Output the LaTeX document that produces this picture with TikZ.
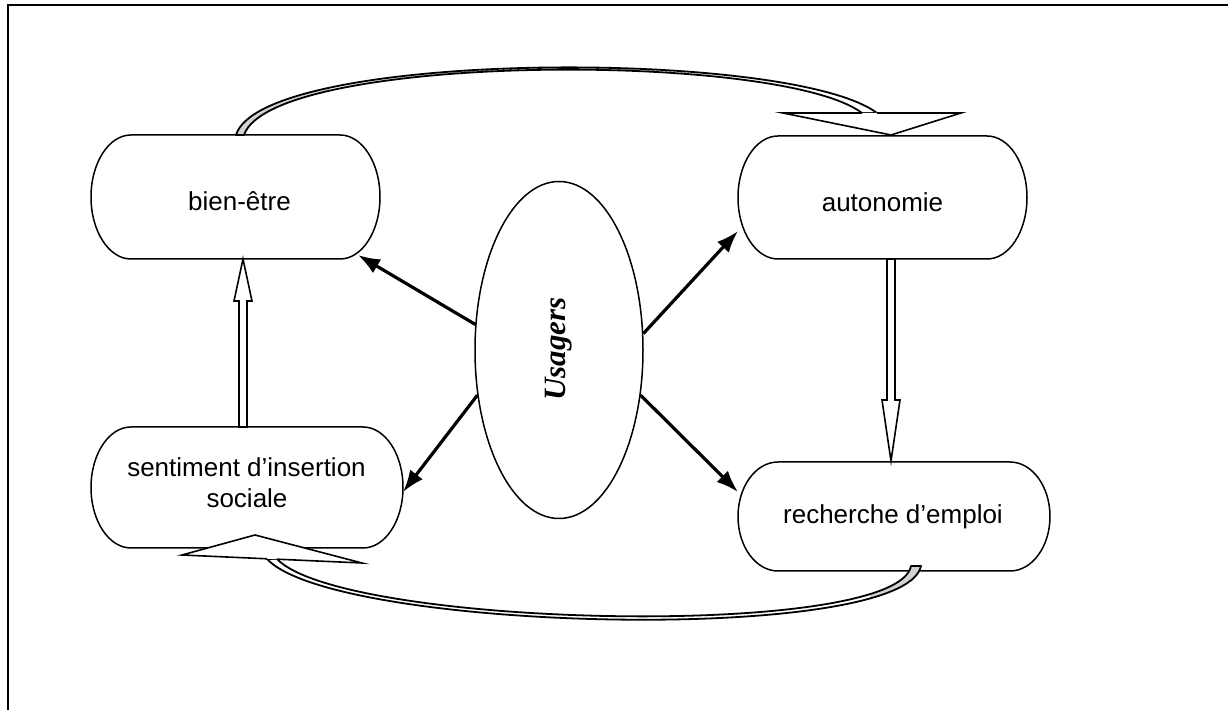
\documentclass[tikz,border=0pt]{standalone}
\usepackage{fontspec}
\setmainfont{Liberation Sans}
\newfontfamily\timesfont{Liberation Serif}
\usetikzlibrary{shapes.geometric,arrows.meta,calc}
\begin{document}
\begin{tikzpicture}[x=0.5pt,y=-0.5pt,
  frame/.style={line width=1.2pt},
  boxline/.style={line width=0.75pt},
  boxnode/.style={shape=rectangle,draw=none,inner sep=0pt,outer sep=0pt},
  lbl/.style={font=\fontsize{13}{15.5}\selectfont, anchor=base, inner sep=0pt},
  blk/.style={line width=1.6pt, -{Latex[length=11pt,width=8pt]}},
  hollow/.style={line width=0.8pt, line join=miter},
  band/.style={line width=0.9pt, line join=round},
]
\useasboundingbox (0,0) rectangle (1228,710);
\draw[frame] (8,720) -- (8,5) -- (1240,5);

% boxes
\node[boxnode, minimum width=144.5pt, minimum height=62pt] (bien) at (235.5,197) {};
\node[boxnode, minimum width=144.5pt, minimum height=61.5pt] (auto) at (882.5,197.5) {};
\node[boxnode, minimum width=156pt, minimum height=60.5pt] (sent) at (247,487.5) {};
\node[boxnode, minimum width=156pt, minimum height=54.5pt] (rech) at (894,516.5) {};
\foreach \n/\r in {bien/31pt, auto/30.75pt, sent/30.25pt, rech/27.25pt}{
  \draw[boxline] ([xshift=20pt]\n.north west) -- ([xshift=-20pt]\n.north east)
    arc[start angle=90, end angle=-90, x radius=20pt, y radius=\r]
    -- ([xshift=20pt]\n.south west)
    arc[start angle=270, end angle=90, x radius=20pt, y radius=\r] -- cycle;
}

% labels
\node[lbl] (tbien) at (239.5,211) {bien-être};
\node[lbl] (tauto) at (882.5,212) {autonomie};
\node[lbl] (tsent1) at (246.5,477) {sentiment d’insertion};
\node[lbl] (tsent2) at (247,508) {sociale};
\node[lbl] (trech) at (893,524) {recherche d’emploi};

% central ellipse
\node[ellipse, draw, line width=0.75pt, minimum width=84pt, minimum height=168.5pt, inner sep=0pt] (us) at (559,350) {};
\node[rotate=90, inner sep=0pt, font=\timesfont\bfseries\itshape\fontsize{15.5}{18}\selectfont] (ust) at (559,349) {Usagers};

% black arrows
\coordinate (eb) at (358,255);
\coordinate (ea) at (738,231);
\coordinate (es) at (403,492);
\coordinate (er) at (738,492);
\draw[blk] (us.163) -- (eb);
\draw[blk] (us.11) -- (ea);
\draw[blk] (us.209) -- (es);
\draw[blk] (us.331) -- (er);

% hollow vertical arrows
\draw[hollow, fill=white] (239,427) -- (239,301) -- (234,301) -- (243,259) -- (252,301) -- (247,301) -- (247,427) -- cycle;
\draw[hollow, fill=white] (887,259) -- (887,400) -- (882,400) -- (891,461) -- (900,400) -- (895,400) -- (895,259) -- cycle;

% upper curved arrow
\def\upband{(236,135) .. controls (262,50) and (790,48) .. (877,113) -- (862,113) .. controls (780,51) and (272,53) .. (244,135) -- cycle}
\fill[white] \upband;
\begin{scope}
  \clip (200,60) rectangle (330,140);
  \fill[gray!35] \upband;
\end{scope}
\draw[band] \upband;
\fill[white] (783,113) -- (961,113) -- (891,135) -- cycle;
\draw[hollow] (877,113) -- (961,113) -- (891,135) -- (783,113) -- (862,113);

% lower curved arrow
\def\lowband{(267,559) .. controls (335,632) and (905,645) .. (921,566) -- (911,566) .. controls (897,640) and (343,628) .. (277,559) -- cycle}
\fill[white] \lowband;
\begin{scope}
  \clip (870,555) rectangle (940,615);
  \fill[gray!35] \lowband;
\end{scope}
\draw[band] \lowband;
\fill[white] (182,555) -- (255,535) -- (362,563) -- cycle;
\draw[hollow] (277,559.2) -- (362,563) -- (255,535) -- (182,555) -- (267,558.8);
\end{tikzpicture}
\end{document}
